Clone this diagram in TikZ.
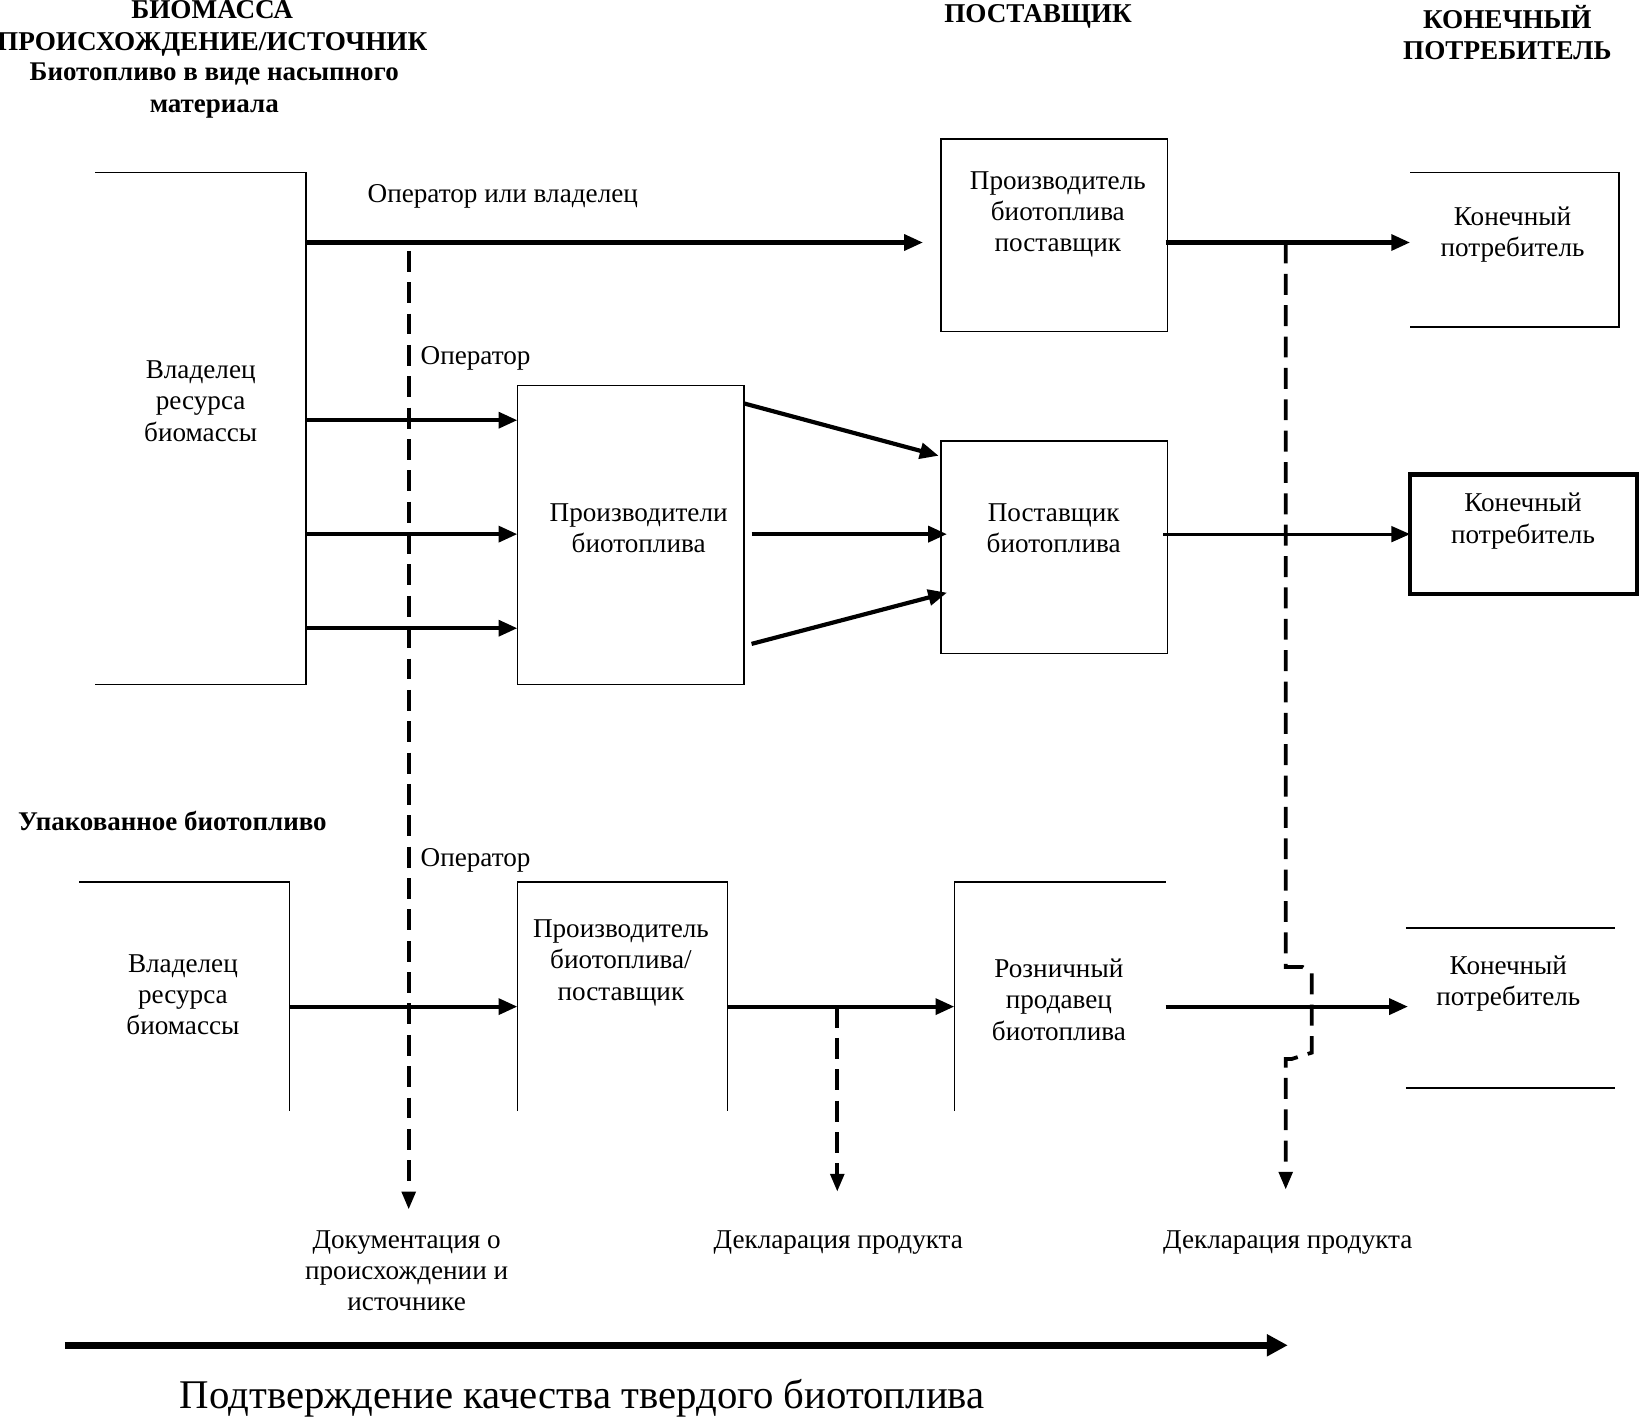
\documentclass[tikz,border=0pt]{standalone}
\usepackage{fontspec}
\setmainfont{Liberation Serif}
\usetikzlibrary{arrows.meta,calc}
\newcommand\ZS{\strut}
\begin{document}
\begin{tikzpicture}[x=0.5pt,y=-0.5pt,
  every node/.style={inner sep=0pt,outer sep=0pt},
  lbl/.style={font=\fontsize{13}{15}\selectfont,align=center},
  hdr/.style={font=\fontsize{13}{15}\selectfont\bfseries,align=center},
  bhdr/.style={font=\fontsize{12.9}{15.5}\selectfont\bfseries,align=center},
  area/.style={rectangle,draw=none},
  fullbox/.style={rectangle,draw,line width=0.75pt},
  thinln/.style={line width=0.75pt},
  arr/.style={line width=2pt,-{Triangle[length=9pt,width=7.5pt]}},
  arrm/.style={line width=1.4pt,-{Triangle[length=9pt,width=7.5pt]}},
  dsh/.style={line width=1.8pt,dash pattern=on 10pt off 5pt,-{Triangle[length=8.5pt,width=6.5pt]}},
  big/.style={line width=3.5pt,-{Triangle[length=10pt,width=10pt]}}]
\useasboundingbox (0,0) rectangle (1568,1359);

% headers
\node[hdr] (h1) at (203,27) {\ZS БИОМАССА\\\ZS ПРОИСХОЖДЕНИЕ/ИСТОЧНИК};
\node[bhdr] (h3) at (205,86) {\ZS Биотопливо в виде насыпного\\\ZS материала};
\node[hdr] (h4) at (993,16) {\ZS ПОСТАВЩИК};
\node[hdr] (h5) at (1442,35.5) {\ZS КОНЕЧНЫЙ\\\ZS ПОТРЕБИТЕЛЬ};
\node[bhdr] (pack) at (165,788) {\ZS Упакованное биотопливо};

% areas (boxes)
\node[area,minimum width=101pt,minimum height=245pt] (own1) at (192,410) {};
\node[fullbox,minimum width=108.5pt,minimum height=92pt] (prod1) at (1008.5,225) {};
\node[area,minimum width=100pt,minimum height=74pt] (cons1) at (1449,239) {};
\node[fullbox,minimum width=108.5pt,minimum height=143pt] (prods) at (603.5,512) {};
\node[fullbox,minimum width=108.5pt,minimum height=101.5pt] (supp) at (1008.5,523.5) {};
\node[rectangle,draw,line width=2pt,minimum width=108.5pt,minimum height=57pt] (cons2) at (1457.5,511) {};
\node[area,minimum width=100.5pt,minimum height=109.5pt] (own2) at (176.5,953.5) {};
\node[area,minimum width=100.5pt,minimum height=109.5pt] (prod2) at (595.5,953.5) {};
\node[area,minimum width=101pt,minimum height=109.5pt] (retail) at (1014,953.5) {};
\node[area,minimum width=100pt,minimum height=76.5pt] (cons3) at (1445,964.5) {};

% open box sides
\draw[thinln] (own1.north west) -- (own1.north east) -- (own1.south east) -- (own1.south west);
\draw[thinln] (cons1.north west) -- (cons1.north east) -- (cons1.south east) -- (cons1.south west);
\draw[thinln] (own2.north west) -- (own2.north east) -- (own2.south east);
\draw[thinln] (prod2.south west) -- (prod2.north west) -- (prod2.north east) -- (prod2.south east);
\draw[thinln] (retail.south west) -- (retail.north west) -- (retail.north east);
\draw[thinln] (cons3.north west) -- (cons3.north east);
\draw[thinln] (cons3.south west) -- (cons3.south east);

% box texts
\node[lbl] (t-own1) at (192,386) {\ZS Владелец\\\ZS ресурса\\\ZS биомассы};
\node[lbl] (t-prod1) at (1012,205) {\ZS Производитель\\\ZS биотоплива\\\ZS поставщик};
\node[lbl] (t-cons1) at (1447,224.5) {\ZS Конечный\\\ZS потребитель};
\node[lbl] (t-prods) at (611,507.5) {\ZS Производители\\\ZS биотоплива};
\node[lbl] (t-supp) at (1008,508) {\ZS Поставщик\\\ZS биотоплива};
\node[lbl] (t-cons2) at (1457,498.5) {\ZS Конечный\\\ZS потребитель};
\node[lbl] (t-own2) at (175,954) {\ZS Владелец\\\ZS ресурса\\\ZS биомассы};
\node[lbl] (t-prod2) at (594,921) {\ZS Производитель\\\ZS биотоплива/\\\ZS поставщик};
\node[lbl] (t-retail) at (1013,959) {\ZS Розничный\\\ZS продавец\\\ZS биотоплива};
\node[lbl] (t-cons3) at (1443,941) {\ZS Конечный\\\ZS потребитель};

% other labels
\node[lbl] (op1) at (481,188) {\ZS Оператор или владелец};
\node[lbl] (op2) at (455,343) {\ZS Оператор};
\node[lbl] (op3) at (455,823) {\ZS Оператор};
\node[lbl] (doc) at (389,1218) {\ZS Документация о\\\ZS происхождении и\\\ZS источнике};
\node[lbl] (decl1) at (802,1188) {\ZS Декларация продукта};
\node[lbl] (decl2) at (1232,1188) {\ZS Декларация продукта};
\node[font=\fontsize{19.5}{24}\selectfont] (title) at (557,1338) {\ZS Подтверждение качества твердого биотоплива};

% solid arrows, upper part
\draw[arr] (own1.east |- 0,232) -- ([xshift=-8.5pt]prod1.west |- 0,232);
\draw[arr] ([xshift=-1pt]prod1.east |- 0,232) -- (cons1.west |- 0,232);
\draw[arr] (own1.east |- 0,402) -- (prods.west |- 0,402);
\draw[arr] (own1.east |- 0,511) -- (prods.west |- 0,511);
\draw[arr] (own1.east |- 0,601) -- (prods.west |- 0,601);
\draw[arr] (prods.east |- 0,386) -- ([xshift=-1pt]supp.west |- 0,436);
\draw[arr] ([xshift=3.5pt]prods.east |- 0,511) -- ([xshift=3pt]supp.west |- 0,511);
\draw[arr] ([xshift=3.5pt]prods.east |- 0,616) -- ([xshift=3pt]supp.west |- 0,567);
\draw[arrm] ([xshift=-2pt]supp.east |- 0,511) -- (cons2.west |- 0,511);

% solid arrows, lower part
\draw[arr] (own2.east |- 0,963) -- (prod2.west |- 0,963);
\draw[arr] (prod2.east |- 0,963) -- (retail.west |- 0,963);
\draw[arr] (retail.north east |- 0,963) -- ([xshift=1pt]cons3.west |- 0,963);

% dashed arrows
\coordinate (d1s) at (391,240);
\coordinate (d1e) at (391,1157);
\coordinate (d2s) at (801,963);
\coordinate (d2e) at (801,1140);
\coordinate (d3s) at (1230,232);
\coordinate (d3e) at (1230,1138);
\draw[dsh] (d1s) -- (d1e);
\draw[dsh] (d2s) -- (d2e);
\draw[dsh] (d3s) -- (1230,925) -- (1246,925) -- (1255,931) -- (1255,1007) -- (1236,1013) -- (1230,1013) -- (d3e);

% quality arrow
\coordinate (qs) at (62,1287);
\coordinate (qe) at (1232,1287);
\draw[big] (qs) -- (qe);
\end{tikzpicture}
\end{document}
